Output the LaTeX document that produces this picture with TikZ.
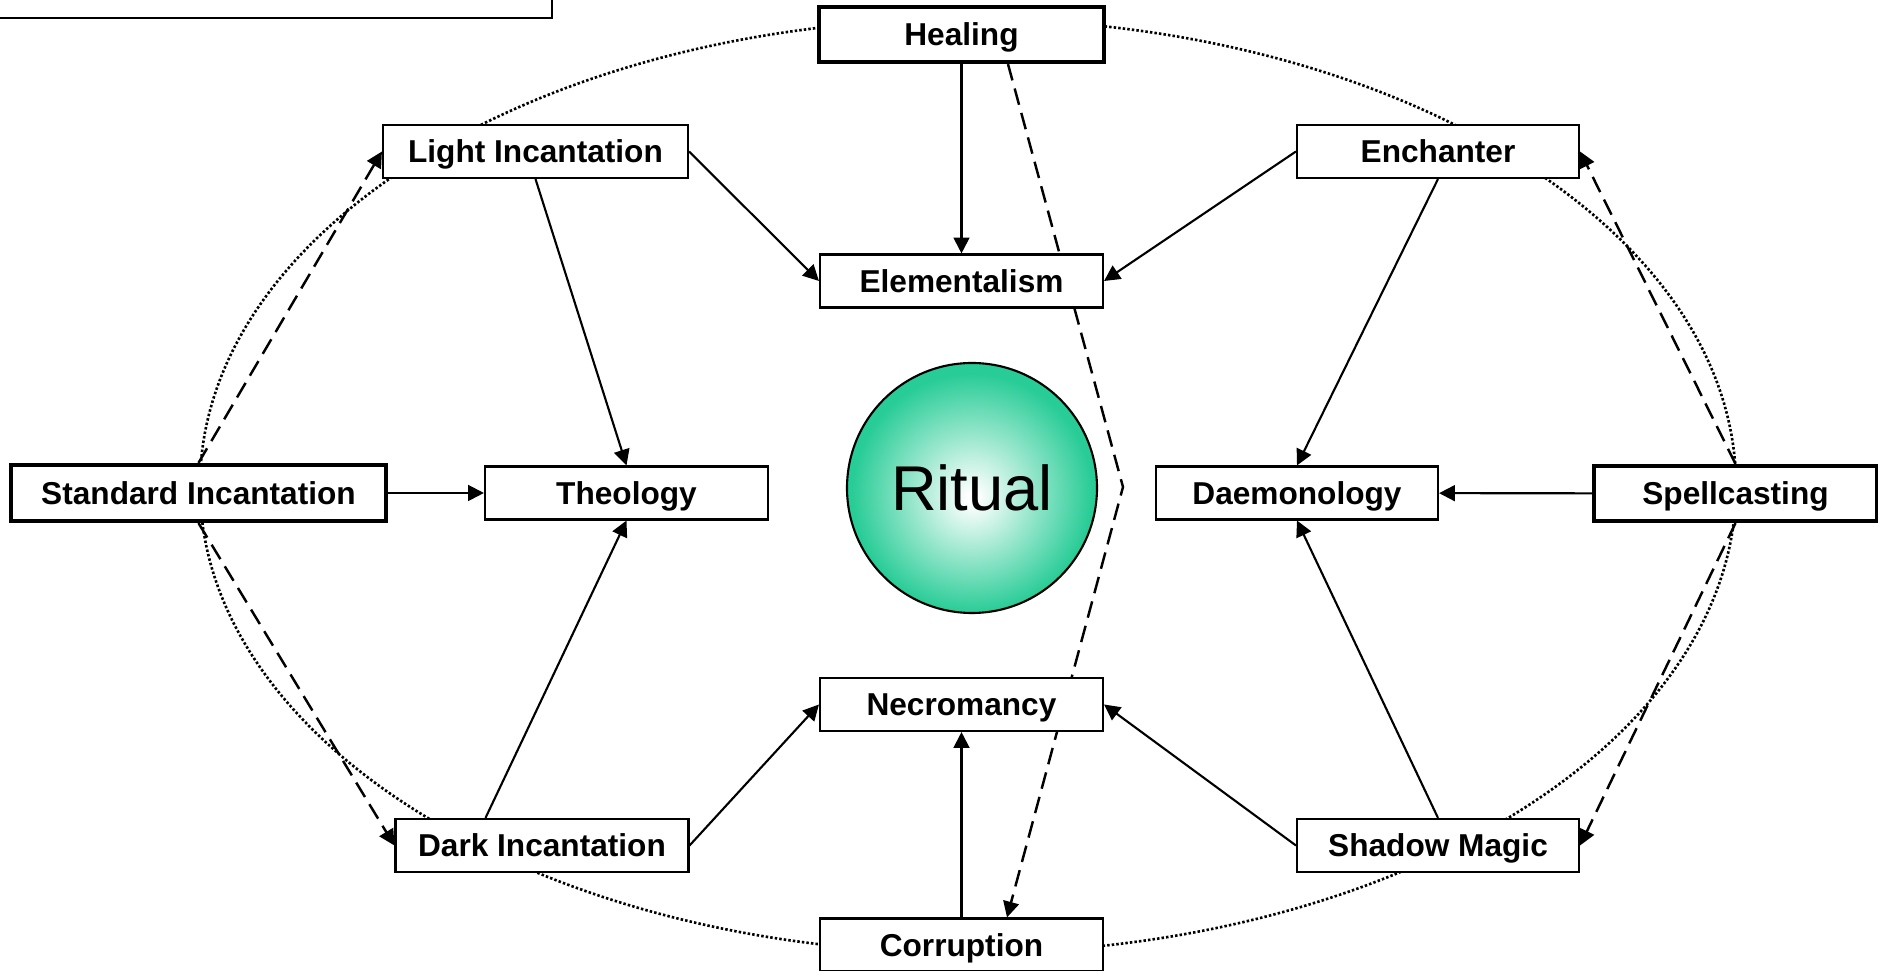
\documentclass[tikz,border=0pt]{standalone}
\usepackage{fontspec}
\setmainfont{Liberation Sans}
\usetikzlibrary{arrows.meta, backgrounds, positioning}
\definecolor{ritualgreen}{RGB}{40,204,150}
\pgfdeclareradialshading{ritualglow}{\pgfpoint{0bp}{-2bp}}{color(0bp)=(white); color(1bp)=(white); color(24bp)=(ritualgreen); color(50bp)=(ritualgreen)}

\tikzset{
  box/.style={draw, fill=white, line width=0.6pt, inner sep=0pt,
    minimum width=2.83cm, minimum height=0.53cm,
    text height=6.44pt, text depth=0pt,
    font=\fontsize{9}{11}\selectfont\bfseries},
  keybox/.style={box, line width=1.2pt, minimum height=0.55cm},
  link/.style={line width=0.6pt, -{Triangle[length=4.5pt, width=4.5pt]}},
  dashlink/.style={link, line width=0.7pt, dash pattern=on 4.8pt off 2.4pt},
  ring/.style={line width=0.75pt, dash pattern=on 0.7pt off 0.6pt}
}

\begin{document}
\begin{tikzpicture}

  \useasboundingbox (0, 0) rectangle (18.78, -9.71);

  % empty frame cut by the top left corner
  \draw[line width=0.6pt] (-0.2, 0.2) rectangle (5.52, -0.18);

  % middle
  \node[circle, draw, line width=0.6pt, minimum size=2.5cm, shading=ritualglow,
        font=\fontsize{18}{22}\selectfont] (ritual) at (9.72, -4.88) {Ritual};

  % ring of boxes
  \node[keybox, minimum width=2.85cm] (heal) at (9.615, -0.345) {Healing};
  \node[box] (elem) at (9.615, -2.81) {Elementalism};
  \node[box, minimum width=3.05cm] (light) at (5.355, -1.515) {Light Incantation};
  \node[box, minimum width=2.82cm] (ench) at (14.38, -1.515) {Enchanter};

  \node[keybox, minimum width=3.75cm, minimum height=0.56cm] (std) at (1.985, -4.93) {Standard Incantation};
  \node[box] (theo) at (6.265, -4.93) {Theology};
  \node[box, minimum width=2.82cm] (daem) at (12.97, -4.93) {Daemonology};
  \node[keybox] (spell) at (17.355, -4.935) {Spellcasting};

  \node[box] (necro) at (9.615, -7.045) {Necromancy};
  \node[box, minimum width=2.93cm] (dark) at (5.42, -8.455) {Dark Incantation};
  \node[box, minimum width=2.82cm] (shadow) at (14.38, -8.455) {Shadow Magic};
  \node[box] (corr) at (9.615, -9.45) {Corruption};

  \coordinate (kink) at (11.23, -4.87);

  % dotted ring and dashed links go behind the boxes
  \begin{scope}[on background layer]
    \draw[ring] (9.68, -4.86) ellipse [x radius=7.68cm, y radius=4.67cm];
    \draw[dashlink] (std.north) -- (light.west);
    \draw[dashlink] (std.south) -- (dark.west);
    \draw[dashlink] (spell.north) -- (ench.east);
    \draw[dashlink] (spell.south) -- (shadow.east);
    \draw[dashlink] ([xshift=0.465cm]heal.south) -- (kink) -- ([xshift=0.455cm]corr.north);
  \end{scope}

  % solid links
  \draw[link] (heal) -- (elem);
  \draw[link] (light.east) -- (elem.west);
  \draw[link] (ench.west) -- (elem.east);
  \draw[link] (light.south) -- (theo.north);
  \draw[link] (ench.south) -- (daem.north);
  \draw[link] (std) -- (theo);
  \draw[link] (spell) -- (daem);
  \draw[link] ([xshift=-0.565cm]dark.north) -- (theo.south);
  \draw[link] (shadow.north) -- (daem.south);
  \draw[link] (dark.east) -- (necro.west);
  \draw[link] (shadow.west) -- (necro.east);
  \draw[link] (corr) -- (necro);

\end{tikzpicture}
\end{document}
